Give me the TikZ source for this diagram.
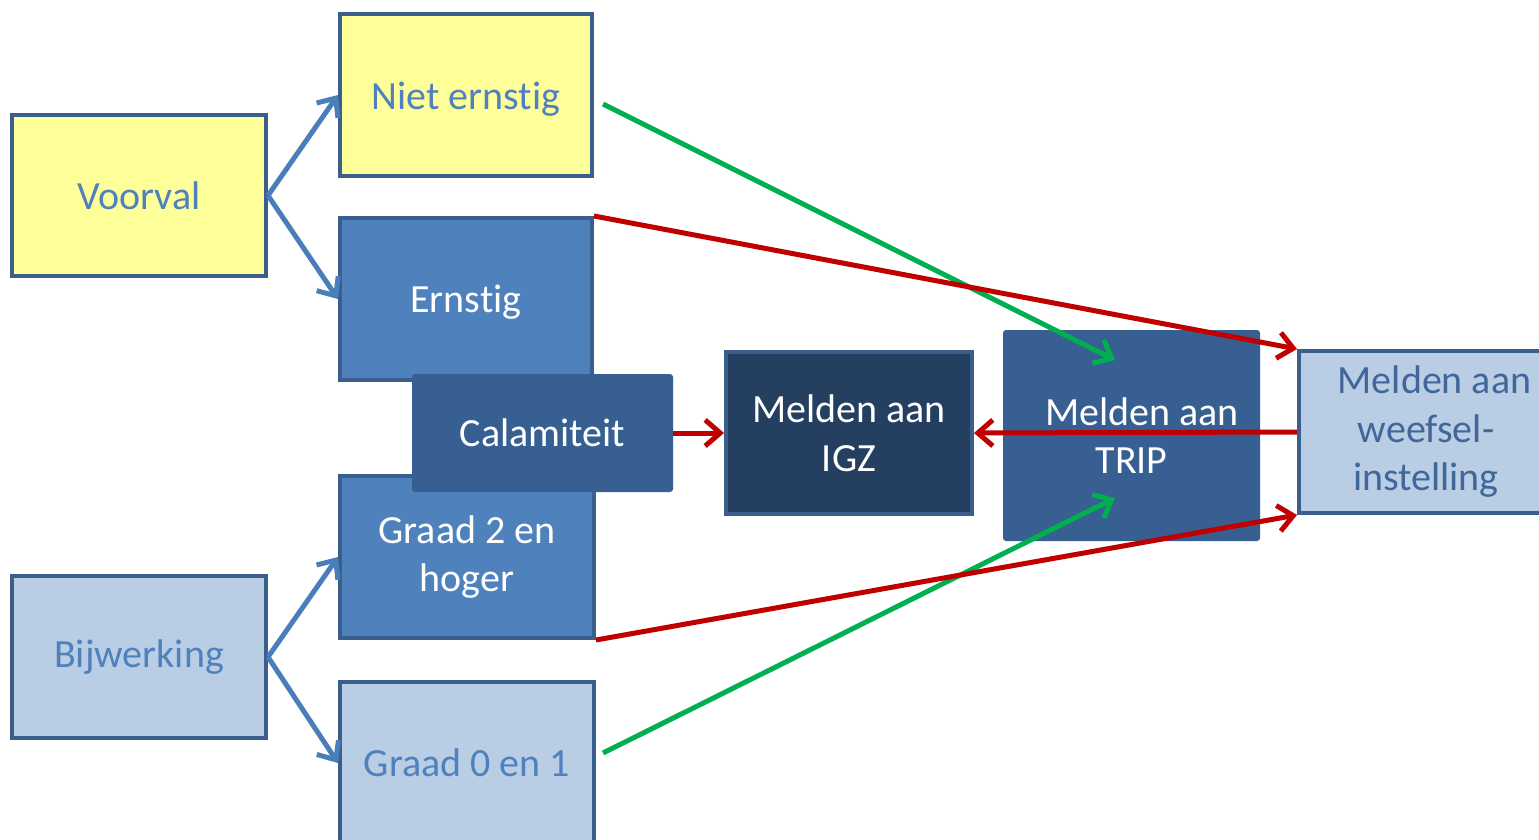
\documentclass[tikz,border=0pt]{standalone}
\usepackage{fontspec}
\setmainfont[Ligatures=NoCommon]{Carlito}
\usetikzlibrary{arrows.meta}
\definecolor{yel}{HTML}{FFFF99}
\definecolor{bord}{HTML}{3A5F8C}
\definecolor{midb}{HTML}{4F81BD}
\definecolor{lightb}{HTML}{B9CDE5}
\definecolor{darkb}{HTML}{375F91}
\definecolor{navy}{HTML}{253F61}
\definecolor{arrb}{HTML}{4A7EBB}
\definecolor{grn}{HTML}{00B050}
\definecolor{rd}{HTML}{C00000}
\definecolor{wtext}{HTML}{41679A}
\tikzset{
  box/.style={rectangle, draw=bord, line width=4pt, align=center, inner sep=2pt,
    font=\fontsize{40}{48.5}\selectfont},
  ybox/.style={box, fill=yel, text=midb},
  mbox/.style={box, fill=midb, text=white},
  lbox/.style={box, fill=lightb, text=midb},
  dbox/.style={rectangle, rounded corners=3pt, fill=darkb, text=white, align=center,
    font=\fontsize{40}{48.5}\selectfont},
  tipb/.style={-{Straight Barb[length=15pt,width=26pt]}},
  barrow/.style={draw=arrb, line width=5pt, tipb},
  garrow/.style={draw=grn, line width=5pt, tipb},
  rarrow/.style={draw=rd, line width=5pt, tipb},
}
\begin{document}
\begin{tikzpicture}[x=1pt,y=-1pt]
\clip (0,0) rectangle (1539,840);
\fill[white] (0,0) rectangle (1539,840);
% boxes
\node[ybox, minimum width=254pt, minimum height=161pt] (voorval) at (139,195.5) {Voorval};
\node[ybox, minimum width=252pt, minimum height=162pt, text height=37pt, text depth=8pt] (niet) at (466,95) {Niet ernstig};
\node[mbox, minimum width=252pt, minimum height=162pt, text height=34pt, text depth=8pt] (ernstig) at (466,299) {Ernstig};
\node[mbox, minimum width=254pt, minimum height=162pt] (graad2) at (467,557) {Graad 2 en\\hoger};
\node[lbox, minimum width=254pt, minimum height=162pt] (bijw) at (139,657) {Bijwerking};
\node[lbox, minimum width=254pt, minimum height=162pt] (graad0) at (467,763) {Graad 0 en 1};
\node[dbox, minimum width=261pt, minimum height=118pt] (cal) at (542.5,433) {Calamiteit};
\node[box, fill=navy, text=white, minimum width=246pt, minimum height=162pt] (igz) at (849,433) {Melden aan\\IGZ};
\node[dbox, minimum width=257pt, minimum height=211pt] (trip) at (1131.5,435.5) {\hspace*{21pt}Melden aan\\TRIP};
\node[lbox, text=wtext, minimum width=254pt, minimum height=162pt] (weefsel) at (1426,432) {\hspace*{17pt}Melden aan\\weefsel-\\instelling};
% blue arrows
\draw[barrow] (voorval.east) -- (niet.west);
\draw[barrow] (voorval.east) -- (ernstig.west);
\draw[barrow] (bijw.east) -- (graad2.west);
\draw[barrow] (bijw.east) -- (graad0.west);
% green arrows
\coordinate (g1a) at (603,104);
\coordinate (g1b) at (1115,360);
\coordinate (g2a) at (603,753);
\coordinate (g2b) at (1115,498);
\draw[garrow] (g1a) -- (g1b);
\draw[garrow] (g2a) -- (g2b);
% red arrows
\draw[rarrow] (ernstig.north east) -- (weefsel.north west);
\draw[rarrow] (graad2.south east) -- (weefsel.south west);
\draw[rarrow] (cal.east) -- (igz.west);
\draw[rarrow] (weefsel.west) -- (igz.east);
\end{tikzpicture}
\end{document}
